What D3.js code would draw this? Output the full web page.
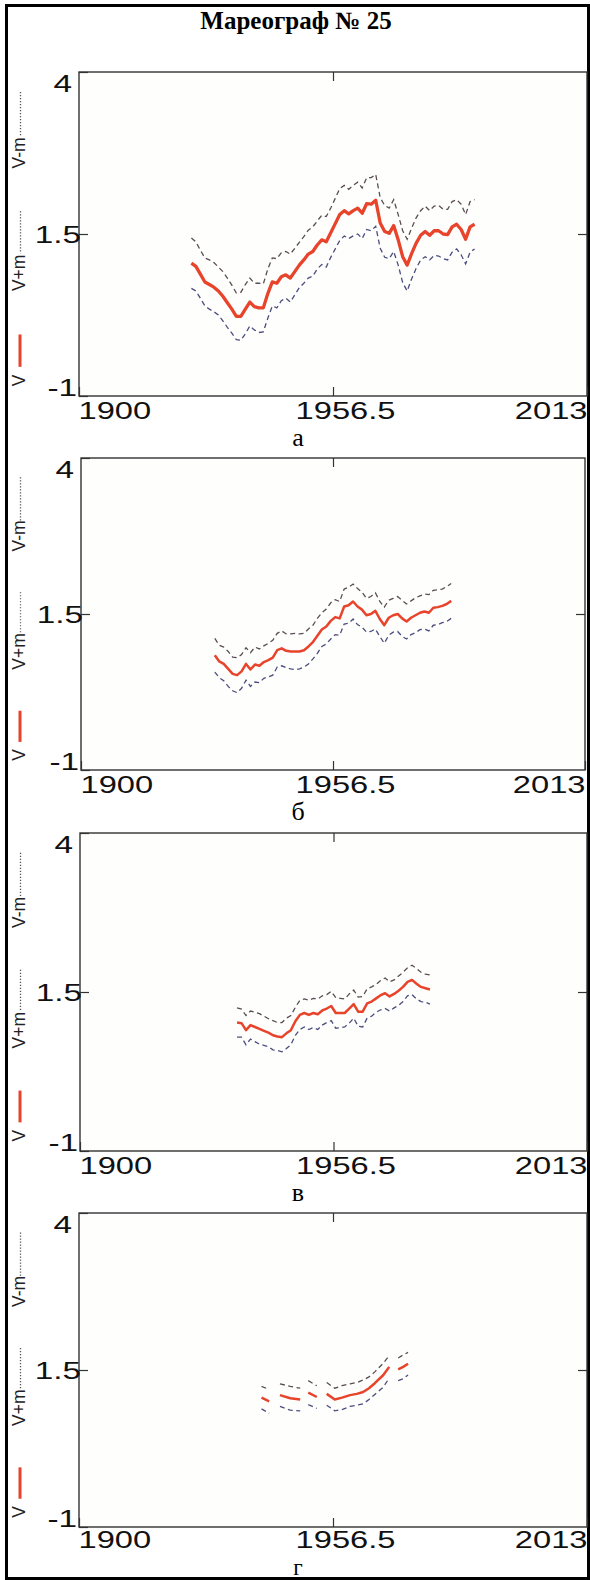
<!DOCTYPE html>
<html><head><meta charset="utf-8">
<script src="https://cdn.jsdelivr.net/npm/d3@7"></script>
<style>body{margin:0;background:#fff}svg{display:block}</style>
</head><body>
<svg id="c" width="590" height="1580"></svg>
<script>
// ---------- data ----------
const title = "Мареограф № 25";
const panelLabels = ["а", "б", "в", "г"];
const xTicks = [1900, 1956.5, 2013];
const yTicks = [4, 1.5, -1];
const legendItems = ["V", "V+m", "V-m"];

// panel а : yearly values from 1925
const years1 = d3.range(1925, 1989);
const V1 = [1.05,1.00,0.88,0.76,0.72,0.68,0.62,0.54,0.44,0.34,0.23,0.23,0.34,0.45,0.38,0.36,0.36,0.58,0.76,0.74,
            0.84,0.87,0.82,0.92,1.02,1.10,1.19,1.23,1.33,1.41,1.38,1.52,1.66,1.80,1.86,1.81,1.86,1.90,1.82,1.97,
            1.96,2.02,1.67,1.54,1.51,1.63,1.41,1.15,1.02,1.20,1.36,1.48,1.54,1.48,1.55,1.55,1.50,1.49,1.61,1.65,
            1.57,1.42,1.61,1.65];
const M1 = [0.39,0.38,0.37,0.37,0.38,0.38,0.37,0.38,0.38,0.37,0.36,0.37,0.38,0.37,0.36,0.38,0.37,0.38,0.37,0.38,
            0.37,0.36,0.37,0.36,0.35,0.36,0.37,0.38,0.37,0.38,0.39,0.38,0.39,0.40,0.39,0.38,0.39,0.40,0.39,0.40,
            0.41,0.40,0.39,0.40,0.39,0.40,0.39,0.40,0.40,0.39,0.39,0.38,0.39,0.38,0.38,0.39,0.38,0.39,0.39,0.38,
            0.39,0.38,0.39,0.38];

// panel б : yearly values from 1930
const years2 = d3.range(1930, 1984);
const V2 = [0.84,0.74,0.70,0.62,0.54,0.52,0.58,0.70,0.61,0.69,0.67,0.73,0.76,0.80,0.92,0.95,0.91,0.90,0.90,0.90,
            0.92,0.98,1.05,1.15,1.25,1.30,1.39,1.45,1.43,1.62,1.64,1.70,1.62,1.57,1.48,1.50,1.55,1.42,1.32,1.44,
            1.48,1.50,1.43,1.38,1.44,1.48,1.52,1.54,1.52,1.60,1.61,1.63,1.66,1.71];
const M2 = [0.27,0.26,0.27,0.28,0.27,0.28,0.27,0.26,0.27,0.28,0.27,0.26,0.27,0.28,0.27,0.28,0.27,0.28,0.29,0.28,
            0.27,0.28,0.27,0.28,0.27,0.28,0.29,0.28,0.27,0.28,0.29,0.28,0.29,0.28,0.27,0.28,0.29,0.28,0.29,0.28,
            0.27,0.28,0.29,0.28,0.27,0.28,0.27,0.28,0.29,0.28,0.28,0.27,0.28,0.28];

// panel в : yearly values from 1935
const years3 = d3.range(1935, 1979);
const V3 = [1.02,1.01,0.90,0.98,0.95,0.92,0.89,0.86,0.82,0.80,0.79,0.85,0.90,1.04,1.14,1.17,1.14,1.17,1.15,1.21,
            1.24,1.28,1.17,1.17,1.17,1.24,1.31,1.19,1.19,1.32,1.35,1.40,1.45,1.48,1.43,1.47,1.52,1.58,1.66,1.69,
            1.63,1.58,1.56,1.54];
const M3 = [0.23,0.22,0.23,0.22,0.23,0.24,0.23,0.22,0.23,0.22,0.23,0.24,0.23,0.22,0.23,0.22,0.23,0.23,0.24,0.23,
            0.22,0.23,0.24,0.23,0.22,0.23,0.22,0.23,0.24,0.23,0.23,0.22,0.23,0.24,0.23,0.22,0.23,0.23,0.22,0.23,
            0.24,0.23,0.22,0.23];

// panel г : broken record (null = no data)
const years4 = [1940.6,1942.3,1943.5,1944.7,1947.0,1949.2,1950.1,1951.0,1952.9,1954.0,1955.1,1956.9,1958.5,
                1960.3,1961.8,1963.2,1964.5,1965.8,1967.7,1969.0,1970.0,1971.0,1972.1,1973.2];
const V4 = [1.06,1.00,null,1.10,1.05,1.03,null,1.14,1.07,null,1.12,1.03,1.06,1.10,1.12,1.15,1.21,1.29,1.42,1.55,
            null,1.51,1.55,1.60];
const M4 = [0.18,0.19,0.18,0.18,0.19,0.18,0.18,0.19,0.18,0.18,0.18,0.18,0.19,0.18,0.18,0.19,0.18,0.18,0.19,0.18,
            0.18,0.18,0.19,0.18];

// ---------- drawing ----------
const series = [
  {yrs: years1, v: V1, m: M1},
  {yrs: years2, v: V2, m: M2},
  {yrs: years3, v: V3, m: M3},
  {yrs: years4, v: V4, m: M4}
];
const layout = [
  {top: 72,   bottom: 396,  left: 79, right: 587, w: 3.3, lab: 23.5, let: 50, fs: 26},
  {top: 458,  bottom: 770,  left: 81, right: 585, w: 2.5, lab: 23.5, let: 50, fs: 26},
  {top: 833,  bottom: 1151, left: 80, right: 587, w: 2.5, lab: 23.5, let: 50, fs: 26},
  {top: 1213, bottom: 1527, left: 79, right: 587, w: 2.5, lab: 21.5, let: 48, fs: 23}
];
const RED = "#e8432b", UPPER = "#5a4c56", LOWER = "#4b4d7e", AX = "#333";
const SANS = "Liberation Sans, Arial, sans-serif";
const SERIF = "Liberation Serif, Times New Roman, serif";

const svg = d3.select("#c");
svg.append("rect").attr("width", 590).attr("height", 1580).attr("fill", "#fff");
svg.append("rect").attr("x", 6.5).attr("y", 5.5).attr("width", 582).attr("height", 1573)
  .attr("fill", "none").attr("stroke", "#000").attr("stroke-width", 3);
svg.append("text").attr("x", 296).attr("y", 29).attr("text-anchor", "middle")
  .attr("font-family", SERIF).attr("font-weight", "bold").attr("font-size", 25)
  .attr("fill", "#000").text(title);

layout.forEach((L, i) => {
  const s = series[i];
  const g = svg.append("g");
  const x = d3.scaleLinear().domain([xTicks[0], xTicks[2]]).range([L.left, L.right]);
  const y = d3.scaleLinear().domain([yTicks[2], yTicks[0]]).range([L.bottom, L.top]);

  // box
  g.append("rect").attr("x", L.left).attr("y", L.top)
    .attr("width", L.right - L.left).attr("height", L.bottom - L.top)
    .attr("fill", "#fefefd").attr("stroke", AX).attr("stroke-width", 1.4);

  // bottom axis with labels
  const xb = g.append("g").attr("transform", `translate(0,${L.bottom})`)
    .call(d3.axisBottom(x).tickValues(xTicks).tickSizeInner(-9).tickSizeOuter(0).tickFormat(d => String(d)));
  xb.select(".domain").remove();
  xb.selectAll("line").attr("stroke", AX).attr("stroke-width", 1.2);
  const anchors = ["start", "middle", "end"], dxs = [-1, 12, 0];
  xb.selectAll("text")
    .attr("y", L.lab).attr("dy", null)
    .attr("x", (d, k) => dxs[k] / 1.42)
    .attr("text-anchor", (d, k) => anchors[k])
    .attr("transform", "scale(1.42,1)")
    .attr("font-family", SANS).attr("font-size", 23).attr("fill", "#111");

  // top ticks
  const xt = g.append("g").attr("transform", `translate(0,${L.top})`)
    .call(d3.axisTop(x).tickValues([xTicks[1]]).tickSizeInner(-9).tickSizeOuter(0));
  xt.select(".domain").remove(); xt.selectAll("text").remove();
  xt.selectAll("line").attr("stroke", AX).attr("stroke-width", 1.2);

  // left axis with labels
  const yl = g.append("g").attr("transform", `translate(${L.left},0)`)
    .call(d3.axisLeft(y).tickValues(yTicks).tickSizeInner(-9).tickSizeOuter(0).tickFormat(d => String(d)));
  yl.select(".domain").remove();
  yl.selectAll("line").attr("stroke", AX).attr("stroke-width", 1.2);
  const ylx = [-7, 2, -2], yly = [11, 0, -9];
  yl.selectAll("text")
    .attr("x", (d, k) => ylx[k] / 1.45).attr("y", (d, k) => yly[k]).attr("dy", "0.35em")
    .attr("text-anchor", "end").attr("transform", "scale(1.45,1)")
    .attr("font-family", SANS).attr("font-size", 23).attr("fill", "#111");

  // right ticks
  const yr = g.append("g").attr("transform", `translate(${L.right},0)`)
    .call(d3.axisRight(y).tickValues([yTicks[1]]).tickSizeInner(-9).tickSizeOuter(0));
  yr.select(".domain").remove(); yr.selectAll("text").remove();
  yr.selectAll("line").attr("stroke", AX).attr("stroke-width", 1.2);

  // data
  const pts = s.v.map((v, j) => ({yr: s.yrs[j], v: v, m: s.m[j]}));
  const mk = f => d3.line().defined(d => d.v != null).x(d => x(d.yr)).y(d => y(f(d)));
  g.append("path").datum(pts).attr("d", mk(d => d.v + d.m))
    .attr("fill", "none").attr("stroke", UPPER).attr("stroke-width", 1.3).attr("stroke-dasharray", "5,3.5");
  g.append("path").datum(pts).attr("d", mk(d => d.v - d.m))
    .attr("fill", "none").attr("stroke", LOWER).attr("stroke-width", 1.3).attr("stroke-dasharray", "5,3.5");
  g.append("path").datum(pts).attr("d", mk(d => d.v))
    .attr("fill", "none").attr("stroke", RED).attr("stroke-width", L.w).attr("stroke-linejoin", "round");

  // rotated legend on the left
  const H = L.bottom - L.top;
  const lg = g.append("g").attr("transform", `translate(0,${L.top})`);
  const legText = (txt, c) => lg.append("text")
    .attr("transform", `translate(25,${H * c}) rotate(-90)`)
    .attr("text-anchor", "middle").attr("font-family", SANS).attr("font-size", 17.5)
    .attr("fill", "#222").text(txt);
  legText(legendItems[0], 0.952);
  lg.append("line").attr("x1", 20).attr("x2", 20).attr("y1", H * 0.81).attr("y2", H * 0.91)
    .attr("stroke", RED).attr("stroke-width", 3);
  legText(legendItems[1], 0.62);
  lg.append("line").attr("x1", 20.5).attr("x2", 20.5).attr("y1", H * 0.43).attr("y2", H * 0.56)
    .attr("stroke", "#555").attr("stroke-width", 1.3).attr("stroke-dasharray", "1.2,1.8");
  legText(legendItems[2], 0.25);
  lg.append("line").attr("x1", 20.5).attr("x2", 20.5).attr("y1", H * 0.062).attr("y2", H * 0.20)
    .attr("stroke", "#555").attr("stroke-width", 1.3).attr("stroke-dasharray", "1.2,1.8");

  // panel letter
  g.append("text").attr("x", 298).attr("y", L.bottom + L.let).attr("text-anchor", "middle")
    .attr("font-family", SERIF).attr("font-size", L.fs).attr("fill", "#000").text(panelLabels[i]);
});
</script>
</body></html>
